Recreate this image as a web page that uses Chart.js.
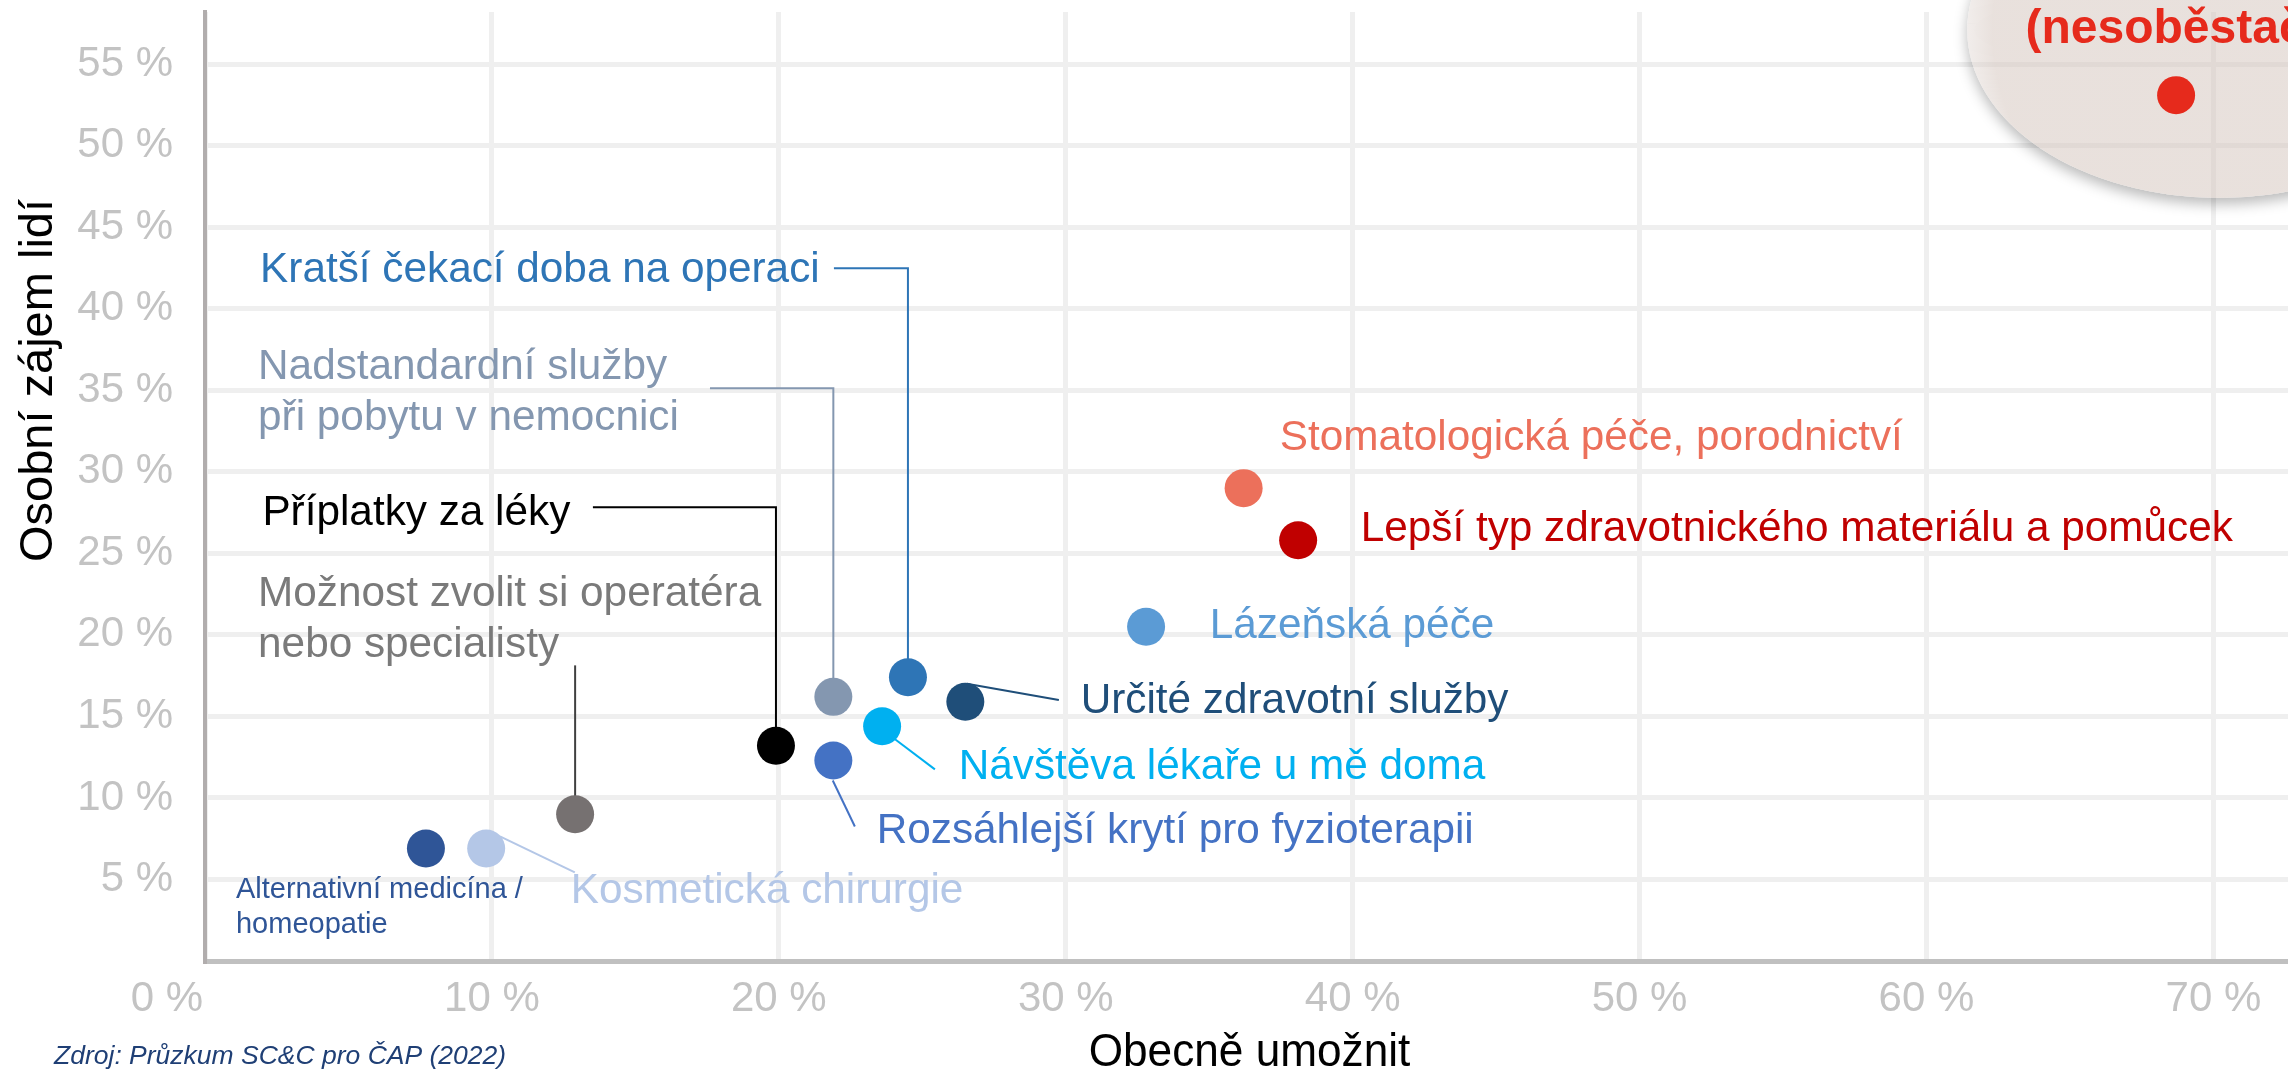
<!DOCTYPE html>
<html>
<head>
<meta charset="utf-8">
<script src="https://cdn.jsdelivr.net/npm/chart.js@4.4.1/dist/chart.umd.min.js"></script>
<style>
html,body{margin:0;padding:0;background:#ffffff;overflow:hidden}
canvas{display:block}
</style>
</head>
<body>
<canvas id="c" width="2288" height="1071" style="width:2288px;height:1071px"></canvas>
<script>
// ---------- data ----------
const categories = [
  "(nesoběstačnost)",
  "Stomatologická péče, porodnictví",
  "Lepší typ zdravotnického materiálu a pomůcek",
  "Lázeňská péče",
  "Určité zdravotní služby",
  "Kratší čekací doba na operaci",
  "Nadstandardní služby při pobytu v nemocnici",
  "Návštěva lékaře u mě doma",
  "Rozsáhlejší krytí pro fyzioterapii",
  "Příplatky za léky",
  "Možnost zvolit si operatéra nebo specialisty",
  "Alternativní medicína / homeopatie",
  "Kosmetická chirurgie"
];
const obecneUmoznit = [68.7, 36.2, 38.1, 32.8, 26.5, 24.5, 21.9, 23.6, 21.9, 19.9, 12.9, 7.7, 9.8];
const osobniZajem   = [53.1, 29.0, 25.8, 20.5, 15.9, 17.4, 16.2, 14.4, 12.3, 13.2, 9.0, 6.9, 6.9];
const xTickValues = [0, 10, 20, 30, 40, 50, 60, 70];
const yTickValues = [5, 10, 15, 20, 25, 30, 35, 40, 45, 50, 55];
const xAxisTitle = "Obecně umožnit";
const yAxisTitle = "Osobní zájem lidí";
const sourceText = "Zdroj: Průzkum SC&C pro ČAP (2022)";

// ---------- styles ----------
const pointColors = ["#e62a1c", "#ec705b", "#c00000", "#5b9bd5", "#1f4e79", "#2e75b6",
  "#8497b0", "#00b0f0", "#4472c4", "#000000", "#767171", "#2f5597", "#b4c7e7"];
const FONT = "'Liberation Sans', Arial, Helvetica, sans-serif";
const TICK_COLOR = '#c3c3c3';
const TICK_SIZE = 42;

// label placement (data coordinates of the text anchor, left aligned, vertical centre)
const labelLayout = [
  {i: 0, lines: ["(nesoběstačnost)"], x: 63.45, y: 57.1, size: 48, bold: true, color: "#e62a1c"},
  {i: 1, lines: ["Stomatologická péče, porodnictví"], x: 37.46, y: 32.06, size: 42.3, color: "#ec705b"},
  {i: 2, lines: ["Lepší typ zdravotnického materiálu a pomůcek"], x: 40.28, y: 26.5, size: 42.3, color: "#c00000"},
  {i: 3, lines: ["Lázeňská péče"], x: 35.02, y: 20.52, size: 42.3, color: "#5b9bd5"},
  {i: 4, lines: ["Určité zdravotní služby"], x: 30.52, y: 15.92, size: 42.3, color: "#1f4e79"},
  {i: 5, lines: ["Kratší čekací doba na operaci"], x: 1.92, y: 42.36, size: 42.3, color: "#2e75b6"},
  {i: 6, lines: ["Nadstandardní služby", "při pobytu v nemocnici"], x: 1.85, y: 34.85, size: 42.3, lh: 51, color: "#8497b0"},
  {i: 7, lines: ["Návštěva lékaře u mě doma"], x: 26.27, y: 11.87, size: 42.3, color: "#00b0f0"},
  {i: 8, lines: ["Rozsáhlejší krytí pro fyzioterapii"], x: 23.41, y: 7.94, size: 42.3, color: "#4472c4"},
  {i: 9, lines: ["Příplatky za léky"], x: 2.0, y: 27.45, size: 42.3, color: "#000000"},
  {i: 10, lines: ["Možnost zvolit si operatéra", "nebo specialisty"], x: 1.85, y: 20.95, size: 42.3, lh: 51, color: "#7a7a7a"},
  {i: 11, lines: ["Alternativní medicína /", "homeopatie"], x: 1.08, y: 3.31, size: 29, lh: 35, color: "#2f5597"},
  {i: 12, lines: ["Kosmetická chirurgie"], x: 12.75, y: 4.26, size: 42.3, color: "#b4c7e7"}
];
// leader lines (data coordinates; "P" = the marker itself, null x = marker x)
const leaderLayout = [
  {i: 5, pts: [[21.92, 42.48], [null, 42.48], "P"], color: "#2e75b6"},
  {i: 6, pts: [[17.6, 35.12], [null, 35.12], "P"], color: "#8497b0"},
  {i: 9, pts: [[13.52, 27.82], [null, 27.82], "P"], color: "#000000"},
  {i: 10, pts: [[null, 18.13], "P"], color: "#404040"},
  {i: 4, pts: [[26.55, 17.0], [29.76, 16.0]], color: "#1f4e79"},
  {i: 7, pts: [[23.97, 13.71], [25.44, 11.75]], color: "#00b0f0"},
  {i: 8, pts: [[21.88, 11.07], [22.65, 8.25]], color: "#4472c4"},
  {i: 12, pts: [[10.28, 7.64], [12.89, 5.43]], color: "#b4c7e7"}
];
const bubble = {cx: 70.2, cy: 57.1, rx: 8.78, ry: 10.3};

const points = obecneUmoznit.map((v, k) => ({x: v, y: osobniZajem[k]}));

const annotations = {
  id: 'annotations',
  beforeDatasetsDraw(chart) {
    const {ctx, width, height, scales: {x, y}} = chart;
    // highlight bubble
    const cx = x.getPixelForValue(bubble.cx), cy = y.getPixelForValue(bubble.cy);
    const rx = x.getPixelForValue(bubble.cx + bubble.rx) - cx;
    const ry = cy - y.getPixelForValue(bubble.cy + bubble.ry);
    // soft shadow only outside the shape
    ctx.save();
    ctx.beginPath();
    ctx.rect(0, 0, width, height);
    ctx.ellipse(cx, cy, rx, ry, 0, 0, Math.PI * 2);
    ctx.clip('evenodd');
    ctx.shadowColor = 'rgba(0,0,0,0.28)';
    ctx.shadowBlur = 14;
    ctx.shadowOffsetY = 6;
    ctx.beginPath();
    ctx.ellipse(cx, cy, rx, ry, 0, 0, Math.PI * 2);
    ctx.fillStyle = '#ffffff';
    ctx.fill();
    ctx.restore();
    // translucent body
    ctx.save();
    ctx.beginPath();
    ctx.ellipse(cx, cy, rx, ry, 0, 0, Math.PI * 2);
    const g = ctx.createRadialGradient(cx, cy, 0, cx, cy, rx);
    g.addColorStop(0, 'rgba(212,197,189,0.52)');
    g.addColorStop(0.9, 'rgba(212,197,189,0.52)');
    g.addColorStop(1, 'rgba(222,212,207,0.42)');
    ctx.fillStyle = g;
    ctx.fill();
    ctx.restore();
    // leader lines
    leaderLayout.forEach(l => {
      const px = obecneUmoznit[l.i], py = osobniZajem[l.i];
      ctx.save();
      ctx.strokeStyle = l.color;
      ctx.lineWidth = 2;
      ctx.beginPath();
      l.pts.forEach((p, k) => {
        let vx, vy;
        if (p === "P") { vx = px; vy = py; }
        else { vx = p[0] === null ? px : p[0]; vy = p[1]; }
        const X = x.getPixelForValue(vx), Y = y.getPixelForValue(vy);
        if (k === 0) ctx.moveTo(X, Y); else ctx.lineTo(X, Y);
      });
      ctx.stroke();
      ctx.restore();
    });
  },
  afterDatasetsDraw(chart) {
    const {ctx, scales: {x, y}} = chart;
    labelLayout.forEach(l => {
      ctx.save();
      ctx.font = (l.bold ? 'bold ' : '') + l.size + 'px ' + FONT;
      ctx.fillStyle = l.color;
      ctx.textAlign = 'left';
      ctx.textBaseline = 'middle';
      const X = x.getPixelForValue(l.x), Yc = y.getPixelForValue(l.y);
      const lh = l.lh || l.size * 1.2;
      const n = l.lines.length;
      l.lines.forEach((t, k) => {
        ctx.fillText(t, X, Yc + (k - (n - 1) / 2) * lh);
      });
      ctx.restore();
    });
  },
  afterDraw(chart) {
    const {ctx, chartArea, scales: {x, y}} = chart;
    // origin label of the x axis sits left of the axis in the original
    ctx.save();
    ctx.font = TICK_SIZE + 'px ' + FONT;
    ctx.fillStyle = TICK_COLOR;
    ctx.textAlign = 'center';
    ctx.textBaseline = 'middle';
    ctx.fillText(xTickValues[0] + ' %', x.getPixelForValue(xTickValues[0]) - 38, chartArea.bottom + 38);
    ctx.restore();
    // y axis title
    ctx.save();
    ctx.translate(52, y.getPixelForValue(35.6));
    ctx.rotate(-Math.PI / 2);
    ctx.font = '47px ' + FONT;
    ctx.fillStyle = '#000000';
    ctx.textAlign = 'center';
    ctx.textBaseline = 'alphabetic';
    ctx.fillText(yAxisTitle, 0, 0);
    ctx.restore();
    // x axis title (slightly condensed as in the original)
    ctx.save();
    ctx.translate((chartArea.left + chartArea.right) / 2 + 3, 1066);
    ctx.scale(0.95, 1);
    ctx.font = '46.5px ' + FONT;
    ctx.fillStyle = '#000000';
    ctx.textAlign = 'center';
    ctx.textBaseline = 'alphabetic';
    ctx.fillText(xAxisTitle, 0, 0);
    ctx.restore();
    // source
    ctx.save();
    ctx.font = 'italic 26.5px ' + FONT;
    ctx.fillStyle = '#1f3f75';
    ctx.textAlign = 'left';
    ctx.textBaseline = 'middle';
    ctx.fillText(sourceText, 54, 1057);
    ctx.restore();
  }
};

new Chart(document.getElementById('c'), {
  type: 'scatter',
  data: {
    datasets: [{
      label: 'Oblasti',
      data: points,
      backgroundColor: pointColors,
      borderWidth: 0,
      pointRadius: 19,
      pointHoverRadius: 19
    }]
  },
  options: {
    responsive: false,
    animation: false,
    devicePixelRatio: 1,
    layout: {autoPadding: false, padding: {top: 12, left: 0, right: 0, bottom: 0}},
    plugins: {legend: {display: false}, tooltip: {enabled: false}},
    scales: {
      x: {
        type: 'linear',
        min: 0,
        max: 72.6,
        afterBuildTicks(s) { s.ticks = xTickValues.map(v => ({value: v})); },
        afterFit(s) { s.height = 110; s.paddingLeft = 0; s.paddingRight = 0; },
        ticks: {
          padding: 13,
          color: TICK_COLOR,
          font: {family: FONT, size: TICK_SIZE},
          callback: v => v === xTickValues[0] ? '' : v + ' %'
        },
        grid: {color: '#efefef', lineWidth: 5, drawTicks: false},
        border: {display: true, color: '#c0c0c0', width: 5}
      },
      y: {
        type: 'linear',
        min: 0,
        max: 58.2,
        afterBuildTicks(s) { s.ticks = yTickValues.map(v => ({value: v})); },
        afterFit(s) { s.width = 205; s.paddingTop = 0; s.paddingBottom = 0; },
        ticks: {
          padding: 32,
          color: TICK_COLOR,
          font: {family: FONT, size: TICK_SIZE},
          callback: v => v + ' %'
        },
        grid: {color: '#efefef', lineWidth: 5, drawTicks: false},
        border: {display: true, color: '#b1adad', width: 4}
      }
    }
  },
  plugins: [annotations]
});
</script>
</body>
</html>
